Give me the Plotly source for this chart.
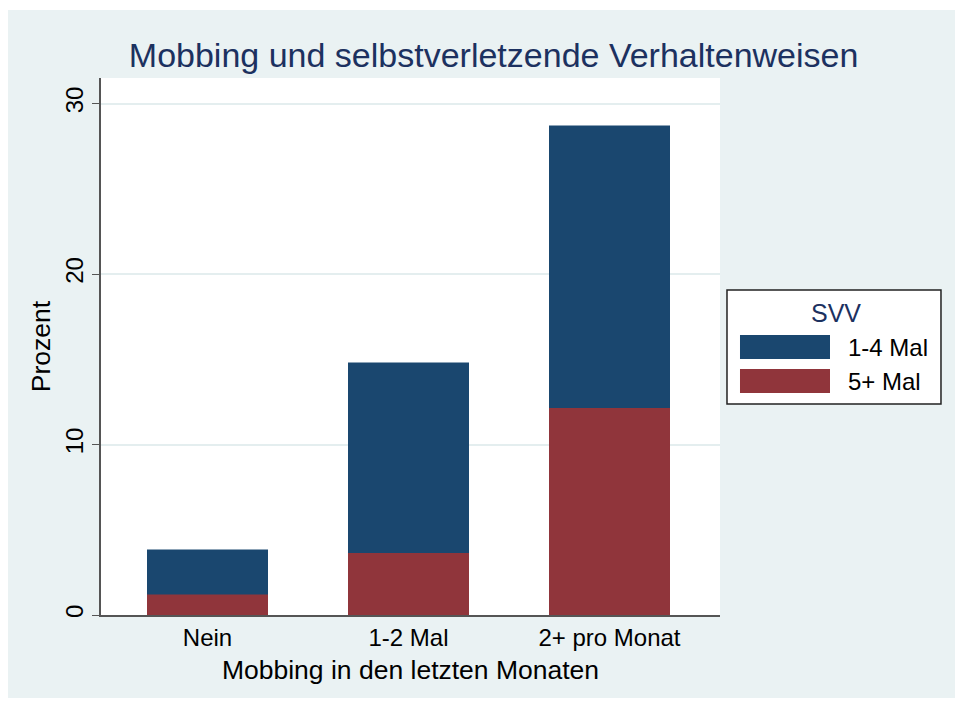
import plotly.graph_objects as go

## Daten
kategorien = ["Nein", "1-2 Mal", "2+ pro Monat"]
svv_5plus = [1.23, 3.64, 12.15]      # unterer Teil (rot)
svv_1bis4 = [2.59, 11.16, 16.55]     # oberer Teil (blau)
serien_namen = ["1-4 Mal", "5+ Mal"]
farben = ["#1a476f", "#90353b"]
y_ticks = [0, 10, 20, 30]

schrift = "Liberation Sans, Arial, sans-serif"
bg = "#eaf2f3"
titel_farbe = "#1c3160"

fig = go.Figure()

fig.add_trace(go.Bar(x=kategorien, y=svv_5plus, name=serien_namen[1],
                     marker=dict(color=farben[1], line=dict(color=farben[1], width=0.5)),
                     width=0.6))
fig.add_trace(go.Bar(x=kategorien, y=svv_1bis4, name=serien_namen[0],
                     marker=dict(color=farben[0], line=dict(color=farben[0], width=0.5)),
                     width=0.6))

# Hintergrund (hellblau, weisser Rand kommt vom body-Rand der Seite) und weisse Plotflaeche
fig.add_shape(type="rect", xref="paper", yref="paper", x0=-0.16, x1=1.3813, y0=-0.1546, y1=1.1266,
              fillcolor=bg, line=dict(width=0), layer="below")
fig.add_shape(type="rect", xref="paper", yref="paper", x0=0, x1=1, y0=0, y1=1,
              fillcolor="white", line=dict(width=0), layer="below")

# eigene Legende im Stata-Stil
fig.add_shape(type="rect", xref="paper", yref="paper", x0=1.0113, x1=1.357, y0=0.393, y1=0.6052,
              fillcolor="white", line=dict(color="#222222", width=1.5))
fig.add_annotation(x=1.1874, y=0.5624, xref="paper", yref="paper", text="SVV", showarrow=False,
                   xanchor="center", font=dict(family=schrift, size=25, color=titel_farbe))
leg_y = [(0.4767, 0.5214), (0.4134, 0.4581)]
for (y0, y1), name, farbe in zip(leg_y, serien_namen, farben):
    fig.add_shape(type="rect", xref="paper", yref="paper", x0=1.0323, x1=1.1777, y0=y0, y1=y1,
                  fillcolor=farbe, line=dict(width=0))
    fig.add_annotation(x=1.2036, y=(y0 + y1) / 2, xref="paper", yref="paper", text=name,
                       showarrow=False, xanchor="left",
                       font=dict(family=schrift, size=24, color="black"))

fig.update_layout(
    barmode="stack",
    width=955, height=698,
    margin=dict(l=93, r=243, t=70, b=91),
    paper_bgcolor="white",
    plot_bgcolor="rgba(0,0,0,0)",
    showlegend=False,
    title=dict(text="Mobbing und selbstverletzende Verhaltenweisen", x=0.5085, xanchor="center",
               y=0.9327, yanchor="middle",
               font=dict(family=schrift, size=34, color=titel_farbe)),
    font=dict(family=schrift, size=24, color="black"),
)

fig.update_xaxes(range=[-0.53, 2.55], showline=True, linecolor="#555555", linewidth=1.5,
                 ticks="", tickfont=dict(size=24),
                 title=dict(text="Mobbing in den letzten Monaten", font=dict(size=26.5), standoff=11))
fig.update_yaxes(range=[0, 31.5], tickvals=y_ticks, showline=True, linecolor="#555555", linewidth=1.5,
                 ticks="outside", ticklen=7, tickcolor="#555555", tickangle=-90,
                 tickfont=dict(size=24), showgrid=True, gridcolor="#e4eeef", gridwidth=1.5,
                 zeroline=False,
                 title=dict(text="Prozent", font=dict(size=26.5), standoff=2))

fig.write_html("out.html")
